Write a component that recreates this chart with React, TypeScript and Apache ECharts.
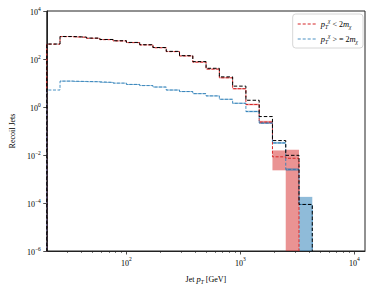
import React, { useEffect, useRef } from 'react';
import * as echarts from 'echarts';

// Bin edges (GeV)
const binEdges = [20, 26.15, 34.2, 44.72, 58.48, 76.47, 100, 130.77, 171.0, 223.61, 292.4, 382.36, 500, 653.83, 854.99, 1118.03, 1462.01, 1911.81, 2500, 3269.2, 4275.0];
const xLimits = [20, 12400];
const yExpMin = -6;
const yExpMax = 4;
const xMajorTicks = [100, 1000, 10000];
const xMinorTicks = [30, 40, 50, 60, 70, 80, 90, 200, 300, 400, 500, 600, 700, 800, 900, 2000, 3000, 4000, 5000, 6000, 7000, 8000, 9000];

// p_T < 2 m_chi (red)
const redValues = [416, 855, 806, 733, 640, 566, 481, 386, 294, 203, 134, 74, 38, 16.5, 5.8, 1.27, 0.235, 0.0084, 0.0073, 0];
const redLow = [416, 830, 783, 712, 621, 549, 466, 374, 284, 196, 129, 71, 36.5, 15.6, 5.4, 1.18, 0.205, 0.0023, 0, 0];
const redHigh = [416, 880, 830, 755, 660, 583, 496, 398, 304, 210, 139, 77, 39.5, 17.4, 6.2, 1.36, 0.265, 0.0155, 0.0164, 0];

// p_T >= 2 m_chi (blue)
const blueValues = [5.1, 12.0, 11.6, 11.3, 10.6, 9.9, 8.75, 7.8, 6.8, 5.1, 4.4, 3.6, 2.9, 2.1, 1.43, 0.65, 0.214, 0.032, 0.0025, 0.000087];
const blueLow = [5.1, 11.5, 11.1, 10.8, 10.1, 9.45, 8.35, 7.45, 6.5, 4.85, 4.2, 3.43, 2.76, 2.0, 1.35, 0.61, 0.198, 0.029, 0.0022, 0];
const blueHigh = [5.1, 12.5, 12.1, 11.8, 11.1, 10.35, 9.15, 8.15, 7.1, 5.35, 4.6, 3.77, 3.04, 2.2, 1.51, 0.69, 0.23, 0.035, 0.0028, 0.00018];

// total (black dashed)
const totalValues = [421, 867, 818, 744, 651, 576, 490, 394, 301, 208, 138, 78, 41, 18, 7.4, 1.91, 0.40, 0.040, 0.0097, 0.000087];

const RED = '#d62728';
const BLUE = '#1f77b4';
const SERIF = 'Liberation Serif, DejaVu Serif, serif';
const DASH_ICON = 'path://M0,0H4V1H0Z M6.5,0H10.5V1H6.5Z M13,0H17V1H13Z M19.5,0H23.5V1H19.5Z';

const L = (v: number) => (v > 0 ? Math.log10(v) : -9);

function stepData(values: number[]) {
  const n = values.length;
  const pts: number[][] = [[L(binEdges[0]), -9]];
  values.forEach((v, i) => pts.push([L(binEdges[i]), L(v)]));
  pts.push([L(binEdges[n]), L(values[n - 1])]);
  pts.push([L(binEdges[n]), -9]);
  return pts;
}

function bandData(lo: number[], hi: number[]) {
  return lo.map((l, i) => [L(binEdges[i]), L(binEdges[i + 1]), L(l), L(hi[i])]);
}

function bandSeries(lo: number[], hi: number[], color: string, z: number) {
  return {
    type: 'custom',
    xAxisIndex: 0,
    yAxisIndex: 0,
    z,
    silent: true,
    encode: { x: [0, 1], y: [2, 3] },
    data: bandData(lo, hi),
    renderItem: (params: any, api: any) => {
      const a = api.coord([api.value(0), api.value(3)]);
      const b = api.coord([api.value(1), api.value(2)]);
      const cs = params.coordSys;
      const rect = echarts.graphic.clipRectByRect(
        { x: a[0], y: a[1], width: b[0] - a[0], height: b[1] - a[1] },
        { x: cs.x, y: cs.y, width: cs.width, height: cs.height }
      );
      if (!rect || rect.height <= 0) return null;
      return { type: 'rect', shape: rect, style: { fill: color, opacity: 0.5 } };
    },
  };
}

const supRich = {
  b: { fontFamily: SERIF, fontSize: 8, color: '#000', lineHeight: 11, verticalAlign: 'bottom' },
  s: { fontFamily: SERIF, fontSize: 5.5, color: '#000', lineHeight: 11, verticalAlign: 'top' },
};

const mathRich = {
  n: { fontFamily: SERIF, fontSize: 8, color: '#000' },
  i: { fontFamily: SERIF, fontSize: 8.5, fontStyle: 'italic', color: '#000' },
  sub: { fontFamily: SERIF, fontSize: 5.5, fontStyle: 'italic', color: '#000', verticalAlign: 'bottom', lineHeight: 12 },
  sup: { fontFamily: SERIF, fontSize: 5.5, fontStyle: 'italic', color: '#000', verticalAlign: 'top', lineHeight: 12 },
};

const legendLabels: Record<string, string> = {
  lt: '{i|p}{sub|T}{sup|χ}{n| < 2}{i|m}{sub|χ}',
  ge: '{i|p}{sub|T}{sup|χ}{n| > = 2}{i|m}{sub|χ}',
};

const expLabel = (v: number) => {
  const e = Math.round(v);
  return `{b|10}{s|${e < 0 ? '−' + Math.abs(e) : e}}`;
};

export default function App() {
  const ref = useRef<HTMLDivElement>(null);
  useEffect(() => {
    document.body.style.margin = '0';
    const chart = echarts.init(ref.current!, null, { renderer: 'svg' });
    const xMin = Math.log10(xLimits[0]);
    const xMax = Math.log10(xLimits[1]);
    chart.setOption({
      animation: false,
      grid: { left: 42, right: 8, top: 11, bottom: 36, show: true, borderColor: '#222', borderWidth: 1, backgroundColor: 'transparent' },
      legend: {
        data: [
          { name: 'lt', icon: DASH_ICON, itemStyle: { color: RED } },
          { name: 'ge', icon: DASH_ICON, itemStyle: { color: BLUE, opacity: 0.8 } },
        ],
        orient: 'vertical',
        right: 10,
        top: 14,
        itemWidth: 18,
        itemHeight: 1.2,
        itemGap: 3,
        padding: [4, 5, 3, 5],
        backgroundColor: '#fff',
        borderColor: '#ccc',
        borderWidth: 0.8,
        borderRadius: 3,
        formatter: (name: string) => legendLabels[name],
        textStyle: { fontFamily: SERIF, fontSize: 8, color: '#000', rich: mathRich },
      },
      xAxis: [
        {
          type: 'value',
          min: xMin,
          max: xMax,
          position: 'bottom',
          axisLine: { show: true, onZero: false, lineStyle: { color: '#222', width: 1 } },
          axisTick: { show: true, length: 3.5, customValues: xMajorTicks.map(Math.log10), lineStyle: { color: '#222', width: 0.8 } },
          axisLabel: { show: true, margin: 5, customValues: xMajorTicks.map(Math.log10), formatter: expLabel, rich: supRich, fontFamily: SERIF },
          splitLine: { show: false },
          name: '{n|Jet }{i|p}{sub|T}{n| [GeV]}',
          nameLocation: 'middle',
          nameGap: 22,
          nameTextStyle: { fontFamily: SERIF, fontSize: 8, color: '#000', rich: mathRich },
        },
        {
          type: 'value',
          min: xMin,
          max: xMax,
          position: 'bottom',
          axisLine: { show: false, onZero: false },
          axisTick: { show: true, length: 2, customValues: xMinorTicks.map(Math.log10), lineStyle: { color: '#222', width: 0.6 } },
          axisLabel: { show: false },
          splitLine: { show: false },
        },
      ],
      yAxis: {
        type: 'value',
        min: yExpMin,
        max: yExpMax,
        interval: 2,
        axisLine: { show: true, onZero: false, lineStyle: { color: '#222', width: 1 } },
        axisTick: { show: true, length: 3.5, lineStyle: { color: '#222', width: 0.8 } },
        axisLabel: { margin: 6, formatter: expLabel, rich: supRich, fontFamily: SERIF },
        splitLine: { show: false },
        name: 'Recoil Jets',
        nameLocation: 'middle',
        nameGap: 30,
        nameTextStyle: { fontFamily: SERIF, fontSize: 8, color: '#000' },
      },
      series: [
        bandSeries(redLow, redHigh, RED, 1),
        bandSeries(blueLow, blueHigh, BLUE, 2),
        {
          name: 'lt',
          type: 'line',
          step: 'end',
          z: 3,
          symbol: 'none',
          data: stepData(redValues),
          lineStyle: { color: RED, width: 1, type: [3, 1.6] },
          itemStyle: { color: RED },
          clip: true,
        },
        {
          name: 'ge',
          type: 'line',
          step: 'end',
          z: 4,
          symbol: 'none',
          data: stepData(blueValues),
          lineStyle: { color: BLUE, width: 1, type: [3, 1.6], opacity: 0.8 },
          itemStyle: { color: BLUE },
          clip: true,
        },
        {
          name: 'total',
          type: 'line',
          step: 'end',
          z: 5,
          symbol: 'none',
          data: stepData(totalValues),
          lineStyle: { color: '#000', width: 1, type: [3.5, 2] },
          itemStyle: { color: '#000' },
          clip: true,
        },
      ],
    });
    return () => chart.dispose();
  }, []);
  return <div ref={ref} style={{ width: 373, height: 290 }} />;
}
